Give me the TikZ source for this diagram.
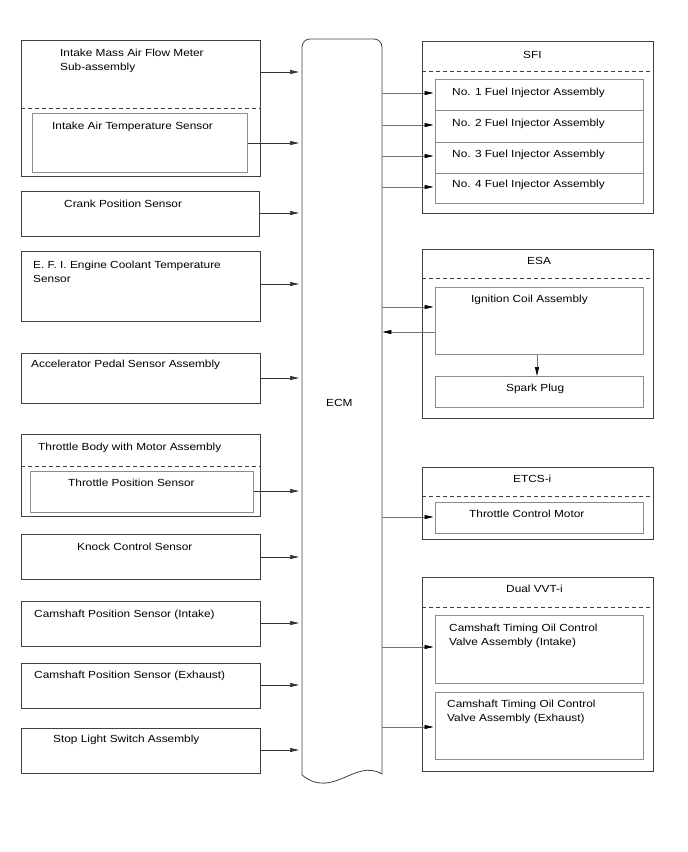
\documentclass[tikz,border=0pt]{standalone}
\usepackage{fontspec}
\setmainfont{Liberation Sans}[FakeStretch=1.15]
\usetikzlibrary{arrows.meta}
\newcommand\mybox[6]{\node[#6, anchor=north west, inner sep=0pt, minimum width={(#4-#2)*1pt}, minimum height={(#5-#3)*1pt}] (#1) at (#2,#3) {};}
\begin{document}
\begin{tikzpicture}[x=1pt,y=-1pt,
  outer/.style={draw=black!75, line width=0.8pt},
  inner/.style={draw=black!45, line width=0.8pt},
  dsh/.style={draw=black!75, line width=0.7pt, dash pattern=on 4pt off 3pt},
  txt/.style={font=\fontsize{10.3}{14}\selectfont, inner sep=0pt, anchor=base west, align=left},
  larr/.style={draw=black!80, line width=0.7pt, -{Triangle[length=9pt,width=4pt]}, shorten >=3pt},
  rarr/.style={draw=black!55, line width=0.7pt, -{Triangle[length=9pt,width=4pt,fill=black,color=black]}, shorten >=1.5pt},
]
\useasboundingbox (0,0) rectangle (688,852);
% ECM
\node[inner sep=0pt, minimum width=80pt, minimum height=736pt, anchor=north west] (ecm) at (302,39) {};
\draw[draw=black!75, line width=0.8pt] (ecm.west |- 0,775) -- (302,47) arc[start angle=180, end angle=90, radius=8pt] -- (374,39) arc[start angle=90, end angle=0, radius=8pt] -- (382,774)
  .. controls (355,758) and (333,800) .. (302,775);
\node[txt] (tecm) at (326,406) {ECM};
% left side
\mybox{maf}{21}{40}{260}{176}{outer}
\draw[dsh] (maf.west |- 0,108) -- (maf.east |- 0,108);
\mybox{iat}{32}{113}{247}{172}{inner}
\node[txt] (tmaf) at (60,70) {Intake Mass Air Flow Meter\\Sub-assembly};
\node[txt] (tiat) at (52,129) {Intake Air Temperature Sensor};
\mybox{crank}{21}{191}{259}{236}{outer}
\node[txt] (tcrank) at (64,207) {Crank Position Sensor};
\mybox{ect}{21}{251}{260}{321}{outer}
\node[txt] (tect) at (33,282) {E. F. I. Engine Coolant Temperature\\Sensor};
\mybox{app}{21}{353}{260}{403}{outer}
\node[txt] (tapp) at (31,367) {Accelerator Pedal Sensor Assembly};
\mybox{tb}{21}{434}{260}{516}{outer}
\draw[dsh] (tb.west |- 0,466) -- (tb.east |- 0,466);
\mybox{tps}{30}{471}{253}{512}{inner}
\node[txt] (ttb) at (38,450) {Throttle Body with Motor Assembly};
\node[txt] (ttps) at (68,486) {Throttle Position Sensor};
\mybox{knock}{21}{534}{260}{579}{outer}
\node[txt] (tknock) at (77,550) {Knock Control Sensor};
\mybox{cmi}{21}{601}{260}{646}{outer}
\node[txt] (tcmi) at (34,617) {Camshaft Position Sensor (Intake)};
\mybox{cme}{21}{663}{260}{708}{outer}
\node[txt] (tcme) at (34,678) {Camshaft Position Sensor (Exhaust)};
\mybox{stop}{21}{728}{260}{773}{outer}
\node[txt] (tstop) at (53,742) {Stop Light Switch Assembly};
% left arrows
\draw[larr] (maf.east |- 0,72) -- (ecm.west |- 0,72);
\draw[larr] (iat.east |- 0,143) -- (ecm.west |- 0,143);
\draw[larr] (crank.east |- 0,213) -- (ecm.west |- 0,213);
\draw[larr] (ect.east |- 0,284) -- (ecm.west |- 0,284);
\draw[larr] (app.east |- 0,378) -- (ecm.west |- 0,378);
\draw[larr] (tps.east |- 0,491) -- (ecm.west |- 0,491);
\draw[larr] (knock.east |- 0,557) -- (ecm.west |- 0,557);
\draw[larr] (cmi.east |- 0,623) -- (ecm.west |- 0,623);
\draw[larr] (cme.east |- 0,685) -- (ecm.west |- 0,685);
\draw[larr] (stop.east |- 0,750) -- (ecm.west |- 0,750);
% SFI
\mybox{sfi}{422}{41}{653}{213}{outer}
\draw[dsh] (sfi.west |- 0,71) -- (sfi.east |- 0,71);
\node[txt] (tsfi) at (523,58) {SFI};
\mybox{inj1}{435}{79}{643}{110}{inner}
\mybox{inj2}{435}{110}{643}{142}{inner}
\mybox{inj3}{435}{142}{643}{173}{inner}
\mybox{inj4}{435}{173}{643}{203}{inner}
\node[txt] (tinj1) at (452,95) {No. 1 Fuel Injector Assembly};
\node[txt] (tinj2) at (452,126) {No. 2 Fuel Injector Assembly};
\node[txt] (tinj3) at (452,157) {No. 3 Fuel Injector Assembly};
\node[txt] (tinj4) at (452,187) {No. 4 Fuel Injector Assembly};
\draw[rarr] (ecm.east |- 0,93) -- (inj1.west |- 0,93);
\draw[rarr] (ecm.east |- 0,125) -- (inj2.west |- 0,125);
\draw[rarr] (ecm.east |- 0,156) -- (inj3.west |- 0,156);
\draw[rarr] (ecm.east |- 0,187) -- (inj4.west |- 0,187);
% ESA
\mybox{esa}{422}{249}{653}{418}{outer}
\draw[dsh] (esa.west |- 0,278) -- (esa.east |- 0,278);
\node[txt] (tesa) at (527,264) {ESA};
\mybox{ign}{435}{287}{643}{354}{inner}
\mybox{spark}{435}{376}{643}{407}{inner}
\node[txt] (tign) at (471,302) {Ignition Coil Assembly};
\node[txt] (tspark) at (506,391) {Spark Plug};
\draw[rarr] (ecm.east |- 0,307) -- (ign.west |- 0,307);
\draw[rarr, shorten >=0pt] (ign.west |- 0,332) -- (ecm.east |- 0,332);
\draw[rarr, shorten >=0pt] (ign.south -| 537,0) -- (spark.north -| 537,0);
% ETCS-i
\mybox{etcs}{422}{467}{653}{539}{outer}
\draw[dsh] (etcs.west |- 0,496) -- (etcs.east |- 0,496);
\node[txt] (tetcs) at (513,482) {ETCS-i};
\mybox{tcm}{435}{502}{643}{533}{inner}
\node[txt] (ttcm) at (469,517) {Throttle Control Motor};
\draw[rarr] (ecm.east |- 0,517) -- (tcm.west |- 0,517);
% Dual VVT-i
\mybox{vvt}{422}{577}{653}{771}{outer}
\draw[dsh] (vvt.west |- 0,607) -- (vvt.east |- 0,607);
\node[txt] (tvvt) at (506,592) {Dual VVT-i};
\mybox{ocv1}{435}{615}{643}{683}{inner}
\mybox{ocv2}{435}{692}{643}{759}{inner}
\node[txt] (tocv1) at (449,645) {Camshaft Timing Oil Control\\Valve Assembly (Intake)};
\node[txt] (tocv2) at (447,721) {Camshaft Timing Oil Control\\Valve Assembly (Exhaust)};
\draw[rarr] (ecm.east |- 0,647) -- (ocv1.west |- 0,647);
\draw[rarr] (ecm.east |- 0,727) -- (ocv2.west |- 0,727);
\end{tikzpicture}
\end{document}
